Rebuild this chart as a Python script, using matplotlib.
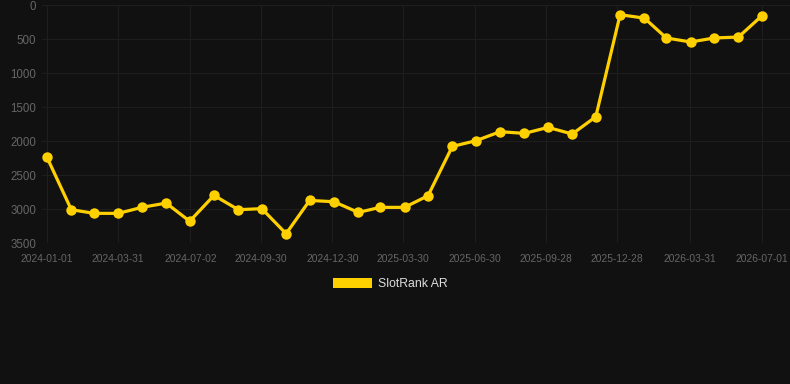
import numpy as np
import pandas as pd
import matplotlib
matplotlib.use('Agg')
import matplotlib.pyplot as plt
import matplotlib.dates as mdates
from matplotlib.patches import Patch

plt.rcParams['font.family'] = ['Liberation Sans', 'DejaVu Sans']

# monthly rank values, 2024-01 .. 2026-07
dates = pd.date_range('2024-01-01', '2026-07-01', freq='MS')
ranks = [2240, 3010, 3064, 3064, 2976, 2913, 3180, 2800, 3010, 2995,
         3363, 2874, 2893, 3050, 2976, 2976, 2805, 2080, 1996, 1863,
         1888, 1800, 1897, 1643, 143, 193, 485, 544, 485, 471, 157]
tick_labels = ['2024-01-01', '2024-03-31', '2024-07-02', '2024-09-30',
               '2024-12-30', '2025-03-30', '2025-06-30', '2025-09-28',
               '2025-12-28', '2026-03-31', '2026-07-01']
yticks = [0, 500, 1000, 1500, 2000, 2500, 3000, 3500]
series_name = 'SlotRank AR'

bg = '#111111'
gold = '#FFD000'

fig = plt.figure(figsize=(7.9, 3.84), dpi=100, facecolor=bg)
ax = fig.add_axes([42 / 790, 1 - 243 / 384, 748 / 790, 238 / 384])
ax.set_facecolor(bg)

ax.plot(dates, ranks, color=gold, lw=2.3, marker='o', ms=7.5,
        markeredgewidth=0, zorder=3, clip_on=False)

tick_dates = pd.to_datetime(tick_labels)
ax.set_xticks(tick_dates)
ax.set_xticklabels(tick_labels)
ax.set_yticks(yticks)
ax.set_yticklabels([str(v) for v in yticks])

first = mdates.date2num(tick_dates[0])
last = mdates.date2num(tick_dates[-1])
ppd = (762 - 47) / (last - first)
ax.set_xlim(first - 5 / ppd, last + 28 / ppd)
ax.set_ylim(3500, 0)

ax.grid(True, color='#1e1e1e', lw=0.8)
ax.set_axisbelow(True)
for s in ax.spines.values():
    s.set_visible(False)
ax.tick_params(axis='x', length=0, pad=8, labelsize=7.4, colors='#666666')
ax.tick_params(axis='y', length=0, pad=4, labelsize=8.3, colors='#666666')

fig.legend(handles=[Patch(facecolor=gold, edgecolor='none', label=series_name)],
           loc='center', bbox_to_anchor=(390 / 790, 1 - 284 / 384), frameon=False,
           fontsize=8.8, labelcolor='#dddddd', handlelength=3.2,
           handleheight=0.9, handletextpad=0.5)

fig.savefig('out.png', dpi=100, facecolor=bg)
